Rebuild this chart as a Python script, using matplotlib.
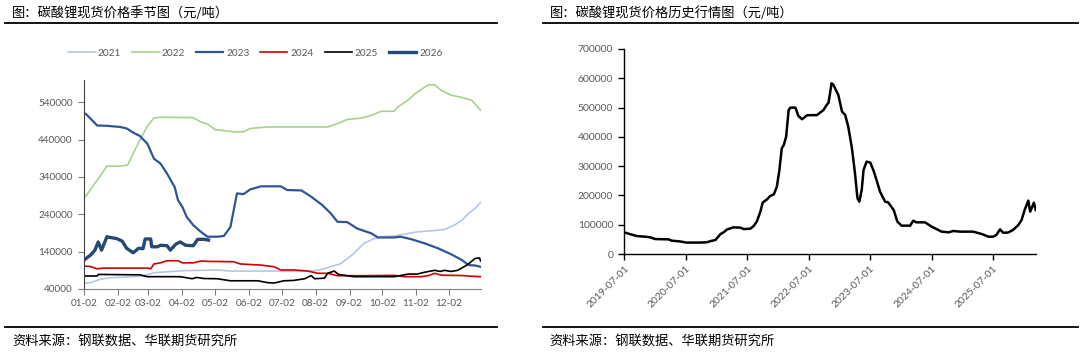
# 碳酸锂现货价格：季节图 + 历史行情图

import pandas as pd
import matplotlib
matplotlib.use("Agg")
import matplotlib.pyplot as plt
import matplotlib.dates as mdates
from matplotlib.lines import Line2D

plt.rcParams['font.family'] = ['Lato', 'Noto Sans CJK SC', 'DejaVu Sans']
CJK = ['Noto Sans CJK SC', 'DejaVu Sans']
GREY = '#595959'

# --- 季节图数据 (MM-DD, 元/吨) ----------------------------------------
d2021 = ["01-02", "01-08", "01-17", "01-26", "02-16", "02-25", "03-07", "03-19", "04-03",
         "05-04", "05-16", "06-19", "07-26", "08-04", "08-13", "08-25", "09-06", "09-15",
         "09-25", "10-01", "10-13", "10-26", "11-03", "11-13", "11-28", "12-07", "12-14",
         "12-20", "12-26", "12-31"]
v2021 = [55000, 57000, 66000, 70000, 73000, 75000, 83600, 86000, 89000,
         91000, 88000, 88000, 88000, 90000, 97000, 108000, 135000, 162000,
         175500, 180000, 182000, 189000, 193000, 195000, 199500, 211000, 224500,
         242000, 256000, 272000]

d2022 = ["01-02", "01-04", "01-14", "01-23", "02-04", "02-11", "02-16", "02-22", "03-01",
         "03-07", "03-13", "04-12", "04-19", "04-25", "05-02", "05-19", "05-28", "06-03",
         "06-19", "08-13", "08-22", "08-31", "09-13", "09-22", "10-01", "10-13", "10-16",
         "10-26", "11-01", "11-10", "11-14", "11-19", "11-25", "12-04", "12-14", "12-23",
         "12-31"]
v2022 = [285000, 290000, 331000, 369000, 369000, 372000, 403000, 438000, 476000,
         498000, 500000, 499000, 487000, 482000, 467000, 461000, 461000, 470000,
         474000, 474000, 483000, 494000, 498000, 505000, 516000, 516000, 527000,
         547000, 563000, 581000, 587000, 587000, 572000, 559000, 553000, 545000,
         519000]

d2023 = ["01-02", "01-04", "01-08", "01-14", "01-23", "02-04", "02-10", "02-16", "02-22",
         "03-01", "03-07", "03-13", "03-19", "03-26", "03-29", "04-02", "04-06", "04-12",
         "04-19", "04-25", "05-04", "05-10", "05-16", "05-22", "05-28", "06-03", "06-13",
         "07-01", "07-07", "07-20", "07-29", "08-08", "08-16", "08-22", "08-31", "09-09",
         "09-22", "09-28", "10-13", "10-19", "10-29", "11-10", "11-22", "12-04", "12-14",
         "12-20", "12-26", "12-31"]
v2023 = [511000, 508000, 496000, 478000, 477000, 474000, 470000, 459000, 450000,
         429000, 389000, 376000, 349000, 313000, 278000, 260000, 233000, 211000,
         193000, 180000, 180000, 182000, 206000, 296000, 294000, 306500, 315000,
         315000, 305000, 304000, 287000, 265000, 242000, 220000, 219000, 202000,
         189000, 178000, 178000, 180000, 173000, 162000, 149000, 133000, 117500,
         104000, 103000, 99500]

d2024 = ["01-02", "01-08", "01-14", "01-20", "03-01", "03-04", "03-07", "03-13", "03-19",
         "03-29", "04-02", "04-12", "04-19", "04-25", "05-19", "05-25", "06-13", "06-25",
         "07-01", "07-13", "07-26", "08-04", "08-13", "08-22", "09-13", "10-13", "10-22",
         "11-07", "11-13", "11-19", "11-25", "12-14", "12-23", "12-31"]
v2024 = [101500, 100000, 94000, 96000, 96000, 94000, 107000, 110000, 115700,
         115700, 110000, 110000, 115000, 114000, 113000, 107000, 104000, 99500,
         91000, 91000, 88000, 82000, 82000, 75600, 75600, 76500, 73000,
         73000, 75600, 82000, 77000, 76000, 74000, 73000]

d2025 = ["01-02", "01-14", "01-15", "02-16", "02-22", "03-01", "03-31", "04-11", "04-15",
         "04-22", "05-04", "05-16", "06-10", "06-19", "06-25", "07-04", "07-13", "07-23",
         "07-29", "08-01", "08-10", "08-13", "08-19", "08-23", "09-06", "10-13", "10-26",
         "11-03", "11-10", "11-19", "11-24", "11-28", "12-04", "12-10", "12-17", "12-21",
         "12-26", "12-30", "12-31"]
v2025 = [74800, 74800, 79000, 78000, 78000, 73000, 73000, 67500, 71000,
         68000, 67500, 62000, 62000, 57000, 56000, 62000, 63000, 67500,
         76000, 67500, 69000, 82000, 88000, 79000, 73000, 73000, 80000,
         80000, 85000, 90000, 87000, 90000, 87000, 90000, 101500, 110000,
         122000, 123000, 115000]

d2026 = ["01-02", "01-08", "01-12", "01-15", "01-18", "01-23", "01-24", "02-01", "02-06",
         "02-10", "02-16", "02-21", "02-25", "02-27", "03-04", "03-05", "03-10", "03-13",
         "03-19", "03-22", "03-27", "03-31", "04-05", "04-12", "04-16", "04-22", "04-26"]
v2026 = [117500, 131000, 144000, 166000, 144000, 180000, 179000, 175000, 168000,
         149000, 137000, 149000, 148000, 174000, 174000, 153000, 153000, 157000,
         156000, 144000, 160000, 166000, 157000, 156000, 173000, 173000, 171000]

years = ["2021", "2022", "2023", "2024", "2025", "2026"]
season_dates = [d2021, d2022, d2023, d2024, d2025, d2026]
season_vals = [v2021, v2022, v2023, v2024, v2025, v2026]
colors = ["#B4C7E7", "#A9D18E", "#2F5597", "#D00000", "#000000", "#244A73"]
widths = [1.2, 1.2, 1.6, 1.2, 1.2, 2.4]

season_ticks = ["01-02", "02-02", "03-02", "04-02", "05-02", "06-02",
                "07-02", "08-02", "09-02", "10-02", "11-02", "12-02"]

# --- 历史行情数据 -----------------------------------------------------
hist_dates = ["2019-07-01", "2019-08-03", "2019-09-12", "2019-11-03", "2019-12-02",
              "2020-01-01", "2020-03-21", "2020-04-08", "2020-05-26", "2020-07-05",
              "2020-09-24", "2020-11-03", "2020-11-25", "2020-12-24", "2021-01-23",
              "2021-02-10", "2021-03-04", "2021-04-10", "2021-05-20", "2021-06-11",
              "2021-07-20", "2021-08-08", "2021-08-26", "2021-09-17", "2021-10-01",
              "2021-10-27", "2021-11-14", "2021-12-06", "2021-12-24", "2022-01-08",
              "2022-01-22", "2022-02-03", "2022-02-17", "2022-03-04", "2022-03-15",
              "2022-04-13", "2022-05-01", "2022-05-23", "2022-06-21", "2022-07-20",
              "2022-08-19", "2022-09-27", "2022-10-16", "2022-10-27", "2022-11-14",
              "2022-11-25", "2022-12-24", "2023-01-15", "2023-02-03", "2023-02-21",
              "2023-03-15", "2023-04-02", "2023-04-17", "2023-04-28", "2023-05-12",
              "2023-05-23", "2023-06-10", "2023-07-02", "2023-07-20", "2023-08-08",
              "2023-08-29", "2023-09-28", "2023-10-16", "2023-11-18", "2023-12-10",
              "2024-01-04", "2024-02-24", "2024-03-13", "2024-04-01", "2024-05-22",
              "2024-07-01", "2024-08-29", "2024-10-09", "2024-11-07", "2024-12-17",
              "2025-03-04", "2025-04-24", "2025-06-03", "2025-07-02", "2025-07-20",
              "2025-08-11", "2025-08-29", "2025-09-27", "2025-10-27", "2025-11-28",
              "2025-12-17", "2026-01-04", "2026-01-26", "2026-02-06", "2026-02-17",
              "2026-02-28", "2026-03-11"]
hist_vals = [74000, 68000, 61500, 59000, 57000,
             51000, 50000, 45500, 43000, 39000,
             39000, 40000, 44000, 48000, 68000,
             74000, 84000, 91000, 90000, 85000,
             86500, 95600, 110000, 144500, 176000,
             186700, 198000, 203700, 230000, 286800,
             360800, 372000, 400600, 491700, 499700,
             499700, 471000, 460000, 473500, 474000,
             474000, 491700, 508800, 516700, 582800,
             577000, 543000, 486000, 474600, 434800,
             360800, 275400, 190000, 178700, 218500,
             286800, 315300, 312000, 286800, 252700,
             212800, 178700, 176400, 150200, 110400,
             96700, 96700, 113800, 108100, 108100,
             93300, 76300, 74000, 78500, 76300,
             76300, 68300, 59200, 59200, 64900,
             84200, 72800, 73000, 82000, 99000,
             116000, 150000, 182100, 144500, 159300,
             175300, 150200]
hist_ticks = ["2019-07-01", "2020-07-01", "2021-07-01", "2022-07-01",
              "2023-07-01", "2024-07-01", "2025-07-01"]

# --- Figure -----------------------------------------------------------
fig = plt.figure(figsize=(10.8, 3.52), dpi=100)

# headers, rules, source lines
for x0, x1, title in [(0.005, 0.460, "图：碳酸锂现货价格季节图（元/吨）"),
                      (0.503, 0.998, "图：碳酸锂现货价格历史行情图（元/吨）")]:
    fig.text(x0 + 0.006, 0.962, title, family=CJK, fontsize=9.5, va='center')
    fig.add_artist(Line2D([x0, x1], [0.934, 0.934], color='black', lw=1.3,
                          transform=fig.transFigure))
    fig.add_artist(Line2D([x0, x1], [0.071, 0.071], color='black', lw=1.3,
                          transform=fig.transFigure))
    fig.text(x0 + 0.006, 0.028, "资料来源：钢联数据、华联期货研究所", family=CJK,
             fontsize=9.5, va='center')

# --- Seasonal chart ---------------------------------------------------
ax1 = fig.add_axes([0.0778, 0.179, 0.3672, 0.594])
for yr, ds, vs, c, w in zip(years, season_dates, season_vals, colors, widths):
    x = pd.to_datetime(["2021-" + d for d in ds])
    ax1.plot(x, vs, color=c, lw=w, label=yr)

ax1.set_xlim(pd.Timestamp("2021-01-02"), pd.Timestamp("2021-12-31"))
ax1.set_ylim(40000, 600000)
ax1.set_yticks(range(40000, 600000, 100000))
ax1.set_xticks(pd.to_datetime(["2021-" + d for d in season_ticks]))
ax1.xaxis.set_major_formatter(mdates.DateFormatter("%m-%d"))
for s in ["top", "right"]:
    ax1.spines[s].set_visible(False)
ax1.spines["left"].set_color("#404040")
ax1.spines["bottom"].set_color("#808080")
ax1.tick_params(axis='both', labelsize=7.2, labelcolor=GREY, length=4, width=0.8,
                color="#808080", direction='out')
ax1.tick_params(axis='y', pad=4)
ax1.tick_params(axis='x', pad=3)

ax1.legend(loc='center', bbox_to_anchor=(0.236, 0.849), bbox_transform=fig.transFigure,
           ncol=6, frameon=False, fontsize=7.2, labelcolor=GREY, handlelength=2.7,
           handletextpad=0.3, columnspacing=1.1)

# --- History chart ----------------------------------------------------
ax2 = fig.add_axes([0.578, 0.2784, 0.381, 0.5826])
ax2.plot(pd.to_datetime(hist_dates), hist_vals, color='black', lw=1.8)
ax2.set_xlim(pd.Timestamp("2019-07-01"), pd.Timestamp(hist_dates[-1]))
ax2.set_ylim(0, 700000)
ax2.set_yticks(range(0, 700001, 100000))
ax2.set_xticks(pd.to_datetime(hist_ticks))
ax2.set_xticklabels(hist_ticks, rotation=45, ha='right', va='top',
                    rotation_mode='anchor')
for s in ["top", "right"]:
    ax2.spines[s].set_visible(False)
for s in ["left", "bottom"]:
    ax2.spines[s].set_color("black")
    ax2.spines[s].set_linewidth(1.0)
ax2.tick_params(axis='both', labelsize=7.5, labelcolor=GREY, length=4, width=1.0,
                direction='out')
ax2.tick_params(axis='y', pad=4)
ax2.tick_params(axis='x', pad=3)

fig.savefig("out.png", dpi=100)
